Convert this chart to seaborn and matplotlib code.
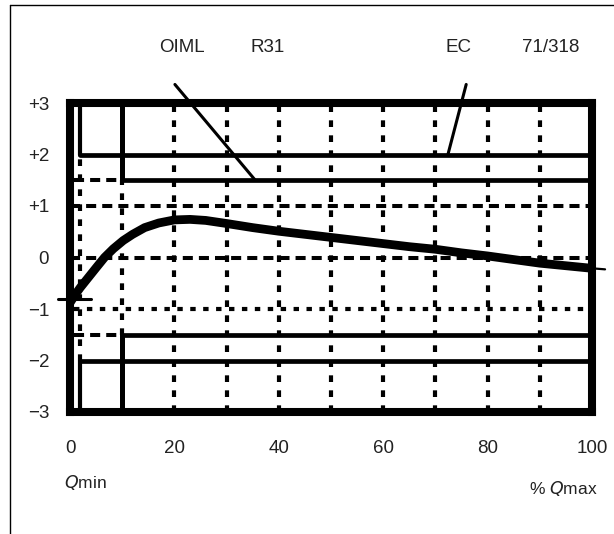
import matplotlib
matplotlib.use("Agg")
import matplotlib.pyplot as plt
import seaborn as sns
import pandas as pd
from matplotlib.lines import Line2D

# ---- data ----
flow = [0.0, 1.0, 2.0, 3.5, 5.0, 6.6, 8.3, 10.2, 12.0, 14.3, 17.0, 20.0, 23.0,
        26.0, 30.0, 35.0, 40.0, 45.0, 50.0, 55.0, 60.0, 65.0, 70.0, 75.0,
        80.0, 85.0, 90.0, 95.0, 100.0]
error = [-0.88, -0.72, -0.58, -0.39, -0.20, 0.00, 0.17, 0.33, 0.45, 0.58, 0.67,
         0.73, 0.74, 0.72, 0.66, 0.58, 0.51, 0.45, 0.39, 0.33, 0.27, 0.21,
         0.16, 0.09, 0.03, -0.04, -0.11, -0.16, -0.21]
x_ticks = [0, 20, 40, 60, 80, 100]
x_tick_labels = ["0", "20", "40", "60", "80", "100"]
y_ticks = [-3, -2, -1, 0, 1, 2, 3]
y_tick_labels = ["\u22123", "\u22122", "\u22121", "0", "+1", "+2", "+3"]
grid_x = [20, 30, 40, 50, 60, 70, 80, 90]
q_min = 2
q_t = 10
ec_limit = 2.0
oiml_limit = 1.5
header_texts = ["OIML", "R31", "EC", "71/318"]
header_x = [21.5, 37.8, 74.4, 92.0]

sns.set_style("white")
plt.rcParams["font.family"] = ["Liberation Sans", "DejaVu Sans"]

fig = plt.figure(figsize=(6.14, 5.34), dpi=100)
ax = fig.add_axes([70 / 614, 1 - 412 / 534, 522 / 614, 309 / 534])
ax.set_xlim(0, 100)
ax.set_ylim(-3, 3)

K = "black"
dot_v = dict(color=K, lw=3.0, linestyle=(0, (1.6, 2.0)), dash_capstyle="butt")
dash_h = dict(color=K, lw=2.9, linestyle=(0, (2.5, 1.5)), dash_capstyle="butt")
dot_h = dict(color=K, lw=3.0, linestyle=(0, (1.3, 1.8)), dash_capstyle="butt")


def seg(x0, x1, y0, y1, **kw):
    ax.plot([x0, x1], [y0, y1], **kw)


# vertical dotted grid
for gx in grid_x:
    seg(gx, gx, -3, 3, **dot_v)
seg(q_min, q_min, -ec_limit, ec_limit, **dot_v)
seg(q_t, q_t, -oiml_limit, oiml_limit, **dot_v)

# horizontal dashed / dotted
for yv in (1, 0):
    seg(0, 100, yv, yv, **dash_h)
for yv in (oiml_limit, -oiml_limit):
    seg(0.8, q_t, yv, yv, **dash_h)
seg(0.8, 100, -1, -1, **dot_h)

# solid limit lines
for yv in (ec_limit, -ec_limit):
    seg(q_min, 100, yv, yv, color=K, lw=3.4)
for yv in (oiml_limit, -oiml_limit):
    seg(q_t, 100, yv, yv, color=K, lw=3.4)
seg(q_min, q_min, ec_limit, 3, color=K, lw=3.0)
seg(q_min, q_min, -3, -ec_limit, color=K, lw=3.0)
seg(q_t, q_t, oiml_limit, 3, color=K, lw=3.6)
seg(q_t, q_t, -3, -oiml_limit, color=K, lw=3.6)

# error curve
df = pd.DataFrame({"flow": flow, "error": error})
sns.lineplot(data=df, x="flow", y="error", color=K, lw=6.3, ax=ax,
             solid_capstyle="butt", solid_joinstyle="round", zorder=5)
ax.plot([100, 102.5], [error[-1], error[-1] - 0.02], color=K, lw=1.6,
        clip_on=False, zorder=5)
ax.plot([-2.3, 4.0], [-0.8, -0.8], color=K, lw=2.2, clip_on=False, zorder=5)

# leader lines
ax.plot([20.1, 35.5], [3.36, oiml_limit], color=K, lw=2.2, clip_on=False)
ax.plot([75.9, 72.4], [3.36, ec_limit], color=K, lw=2.2, clip_on=False)

for s in ax.spines.values():
    s.set_visible(True)
    s.set_linewidth(5.8)
    s.set_color(K)
    s.set_zorder(6)

ax.set_xticks(x_ticks, x_tick_labels)
ax.set_yticks(y_ticks, y_tick_labels)
ax.tick_params(axis="both", length=0, labelsize=13.5, colors="#222222")
ax.tick_params(axis="x", pad=20)
ax.tick_params(axis="y", pad=15)
ax.set_xlabel("")
ax.set_ylabel("")
ax.grid(False)

for t, xv in zip(header_texts, header_x):
    ax.text(xv, 3.0 + 56 / 51.5, t, ha="center", va="center", fontsize=13.5,
            color="#222222", clip_on=False)

fig.text(64 / 614, 1 - 483 / 534, r"$\it{Q}$min", fontsize=12.5, ha="left",
         va="center", color="#222222")
fig.text(598 / 614, 1 - 488 / 534, r"% $\it{Q}$max", fontsize=12.5, ha="right",
         va="center", color="#222222")

# outer frame
fig.add_artist(Line2D([10 / 614, 1.0], [1 - 5 / 534, 1 - 5 / 534], color=K, lw=1.0))
fig.add_artist(Line2D([10 / 614, 10 / 614], [0.0, 1 - 5 / 534], color=K, lw=1.0))

fig.savefig("out.png", dpi=100)
